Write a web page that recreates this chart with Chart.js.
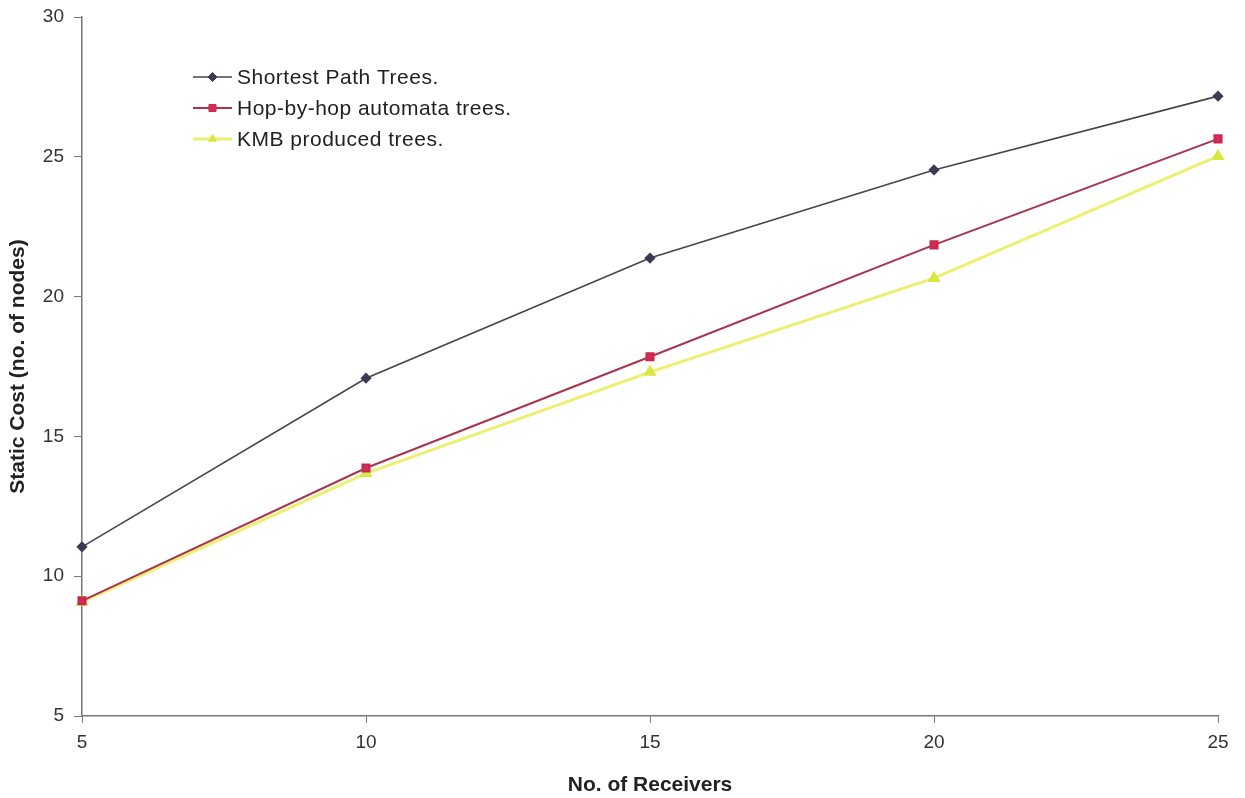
<!DOCTYPE html>
<html>
<head>
<meta charset="utf-8">
<script src="https://cdn.jsdelivr.net/npm/chart.js@4/dist/chart.umd.min.js"></script>
<style>
  html, body { margin: 0; padding: 0; background: #fff; }
  #wrap { width: 1245px; height: 798px; }
</style>
</head>
<body>
<div id="wrap"><canvas id="costChart" width="1245" height="798"></canvas></div>
<script>
const receivers = [5, 10, 15, 20, 25];
const shortestPath = [11.05, 17.08, 21.38, 24.53, 27.17];
const hopByHop = [9.12, 13.87, 17.85, 21.85, 25.64];
const kmb = [9.08, 13.68, 17.3, 20.66, 25.02];
const yTicks = [5, 10, 15, 20, 25, 30];

const FONT = "'Liberation Sans', Arial, sans-serif";

function toPoints(values) {
  return receivers.map((x, i) => ({ x: x, y: values[i] }));
}

// legend sits inside the plot area in the original, so draw it by hand
const innerLegend = {
  id: "innerLegend",
  afterDraw(chart) {
    const ctx = chart.ctx;
    const x0 = 193, x1 = 232, tx = 237;
    const rows = [77, 108, 139];
    ctx.save();
    chart.data.datasets.forEach((ds, i) => {
      const y = rows[i];
      ctx.strokeStyle = ds.borderColor;
      ctx.lineWidth = ds.borderWidth;
      ctx.beginPath();
      ctx.moveTo(x0, y);
      ctx.lineTo(x1, y);
      ctx.stroke();
      ctx.fillStyle = ds.backgroundColor;
      ctx.strokeStyle = ds.pointBorderColor;
      ctx.lineWidth = 1;
      Chart.helpers.drawPoint(ctx, {
        pointStyle: ds.pointStyle,
        radius: ds.pointRadius,
        borderWidth: 1,
      }, (x0 + x1) / 2, y);
      ctx.fillStyle = "#222";
      ctx.font = "21px " + FONT;
      ctx.letterSpacing = "0.5px";
      ctx.textBaseline = "middle";
      ctx.fillText(ds.label, tx, y + 1);
    });
    ctx.restore();
  },
};

const ctx = document.getElementById("costChart").getContext("2d");

new Chart(ctx, {
  type: "line",
  data: {
    datasets: [
      {
        label: "Shortest Path Trees.",
        data: toPoints(shortestPath),
        borderColor: "#45454f",
        backgroundColor: "#3a3a55",
        borderWidth: 1.6,
        pointStyle: "rectRot",
        pointRadius: 4.5,
        pointBorderColor: "#3a3a55",
        tension: 0,
        clip: false,
      },
      {
        label: "Hop-by-hop automata trees.",
        data: toPoints(hopByHop),
        borderColor: "#a8344e",
        backgroundColor: "#d42a55",
        borderWidth: 2,
        pointStyle: "rect",
        pointRadius: 5,
        pointBorderColor: "#c42a50",
        tension: 0,
        clip: false,
      },
      {
        label: "KMB produced trees.",
        data: toPoints(kmb),
        borderColor: "#ecf070",
        backgroundColor: "#d8e640",
        borderWidth: 3,
        pointStyle: "triangle",
        pointRadius: 4.5,
        pointBorderColor: "#d8e640",
        tension: 0,
        clip: false,
      },
    ],
  },
  options: {
    responsive: false,
    animation: false,
    layout: { padding: { top: 17, right: 27, left: 0, bottom: 0 } },
    plugins: {
      legend: { display: false },
      tooltip: { enabled: false },
    },
    scales: {
      x: {
        type: "linear",
        min: 5,
        max: 25,
        afterFit: (scale) => {
          scale.height = 82;
          scale.paddingLeft = 0;
          scale.paddingRight = 0;
        },
        border: { color: "#777", width: 1.5 },
        grid: { drawOnChartArea: false, tickLength: 7, color: "#777" },
        ticks: {
          stepSize: 5,
          padding: 8,
          color: "#333",
          font: { size: 19, family: FONT },
        },
        title: {
          display: true,
          text: "No. of Receivers",
          color: "#222",
          padding: { top: 4, bottom: 0 },
          font: { size: 21, weight: "bold", family: FONT },
        },
      },
      y: {
        min: 5,
        max: 30,
        afterFit: (scale) => {
          scale.width = 82;
          scale.paddingTop = 0;
          scale.paddingBottom = 0;
        },
        afterBuildTicks: (scale) => { scale.ticks = yTicks.map((v) => ({ value: v })); },
        border: { color: "#777", width: 1.5 },
        grid: { drawOnChartArea: false, tickLength: 8, color: "#777" },
        ticks: {
          padding: 10,
          color: "#333",
          font: { size: 19, family: FONT },
        },
        title: {
          display: true,
          text: "Static Cost (no. of nodes)",
          color: "#222",
          padding: { top: 6, bottom: 4 },
          font: { size: 21, weight: "bold", family: FONT },
        },
      },
    },
  },
  plugins: [innerLegend],
});
</script>
</body>
</html>
